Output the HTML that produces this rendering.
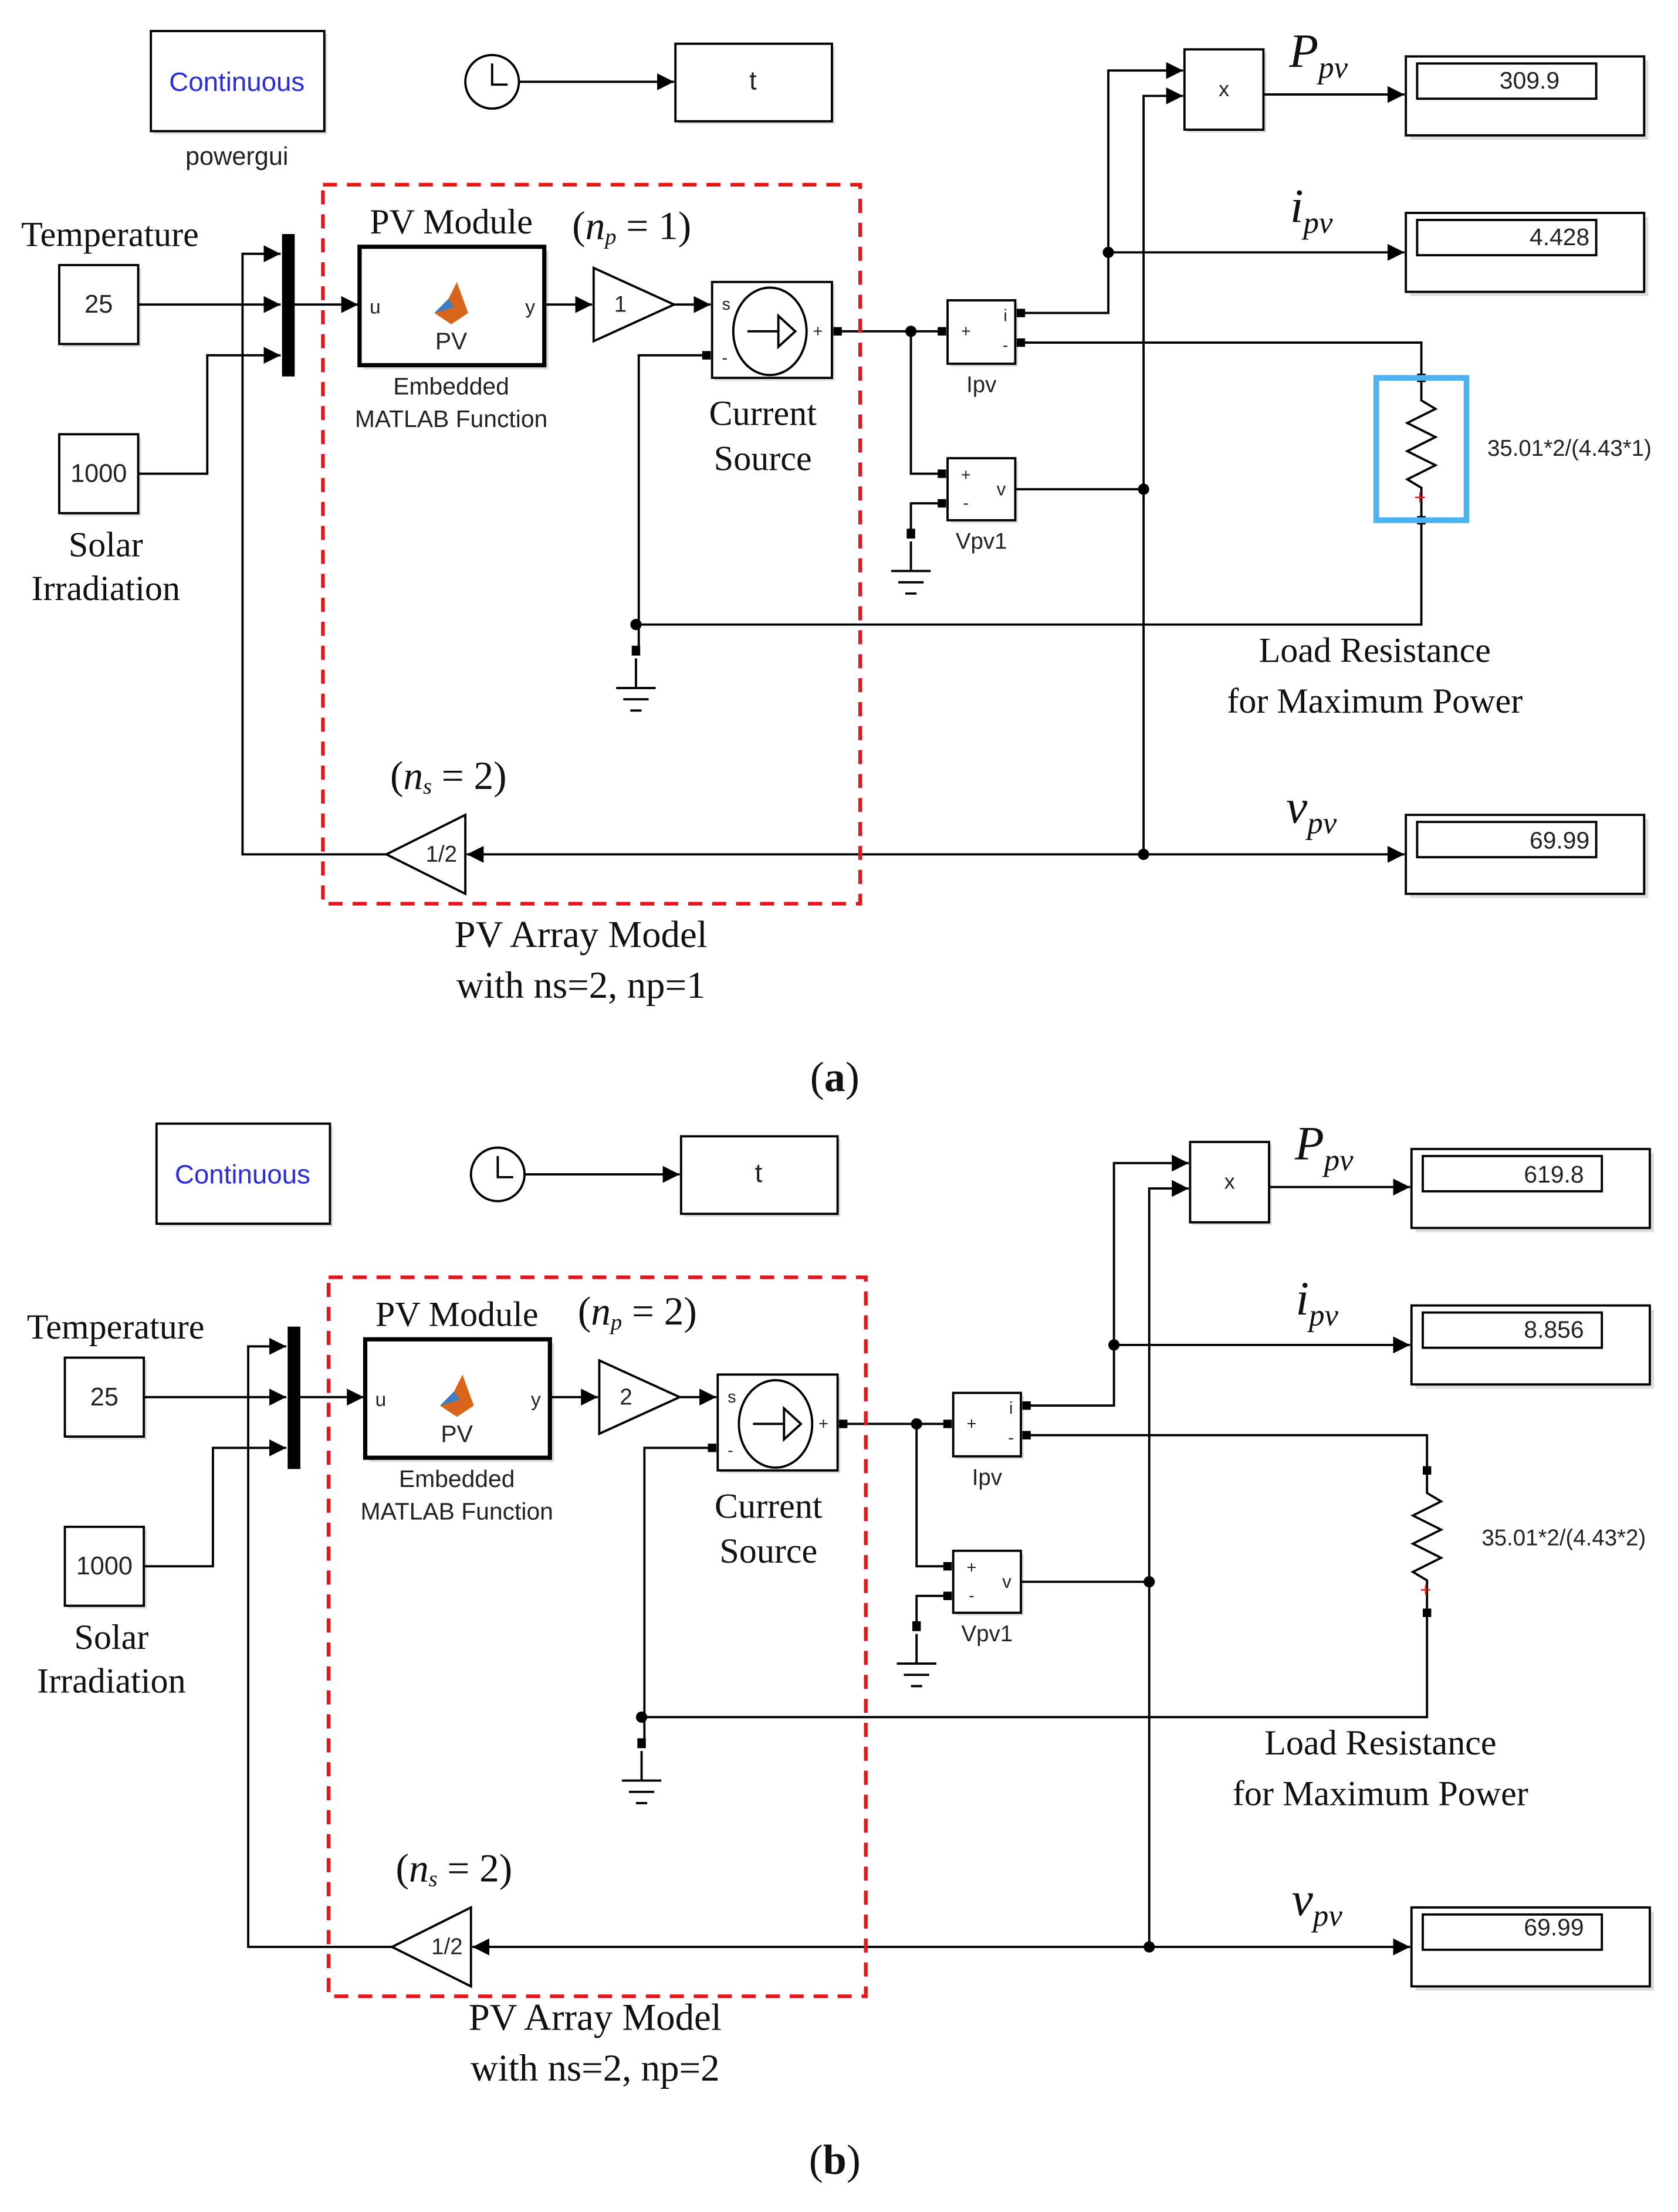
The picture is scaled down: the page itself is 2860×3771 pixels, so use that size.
<!DOCTYPE html>
<html><head><meta charset="utf-8"><style>html,body{margin:0;padding:0;background:#fff}svg{display:block}</style></head>
<body>
<svg xmlns="http://www.w3.org/2000/svg" width="2860" height="3771" viewBox="0 0 1190 1569">
<defs>
<marker id="ar" viewBox="0 0 10 10" refX="10" refY="5" markerWidth="12" markerHeight="12" markerUnits="userSpaceOnUse" orient="auto"><path d="M0,0 L10,5 L0,10 z" fill="#000"/></marker>
<g id="panel">
  <g fill="none" stroke="#000" stroke-width="1.6">
  <!-- powergui -->
  <rect x="109" y="24" width="123" height="71" fill="#ddd" stroke="none"/>
  <rect x="107" y="22" width="123" height="71" fill="#fff"/>
  <!-- clock -->
  <circle cx="349" cy="58" r="19" fill="#fff"/>
  <path d="M349,45 V60 H360"/>
  <line x1="368" y1="58" x2="478" y2="58" marker-end="url(#ar)"/>
  <rect x="481" y="33" width="111" height="55" fill="#ddd" stroke="none"/>
  <rect x="479" y="31" width="111" height="55" fill="#fff"/>
  <!-- sources -->
  <rect x="44" y="190" width="56" height="56" fill="#ddd" stroke="none"/>
  <rect x="42" y="188" width="56" height="56" fill="#fff"/>
  <rect x="44" y="310" width="56" height="56" fill="#ddd" stroke="none"/>
  <rect x="42" y="308" width="56" height="56" fill="#fff"/>
  <line x1="98" y1="216" x2="199" y2="216" marker-end="url(#ar)"/>
  <path d="M98,336 H147 V252 H199" marker-end="url(#ar)"/>
  <path d="M274,606 H172 V180 H199" marker-end="url(#ar)"/>
  <!-- PV block -->
  <line x1="208" y1="216" x2="254" y2="216" marker-end="url(#ar)"/>
  <rect x="258" y="178" width="131" height="84" fill="#ddd" stroke="none"/>
  <rect x="255" y="175" width="131" height="84" fill="#fff" stroke-width="3"/>
  <line x1="386" y1="216" x2="420" y2="216" marker-end="url(#ar)"/>
  <path d="M421,190 L478,216 L421,242 Z" fill="#fff"/>
  <line x1="478" y1="216" x2="504" y2="216" marker-end="url(#ar)"/>
  <!-- current source -->
  <rect x="507" y="202" width="85" height="68" fill="#ddd" stroke="none"/>
  <rect x="505" y="200" width="85" height="68" fill="#fff"/>
  <ellipse cx="546" cy="235" rx="26" ry="31"/>
  <path d="M530,235 H552 M552,224 L564,235 L552,246 Z"/>
  <rect x="591" y="232" width="6" height="6" fill="#000" stroke="none"/>
  <rect x="498" y="249" width="6" height="6" fill="#000" stroke="none"/>
  <path d="M498,252 H453 V461"/>
  <path d="M597,235 H668"/>
  <path d="M646,235 V336 H668"/>
  <path d="M668,357 H646 V378"/>
  <!-- Ipv -->
  <rect x="674" y="215" width="48" height="45" fill="#ddd" stroke="none"/>
  <rect x="672" y="213" width="48" height="45" fill="#fff"/>
  <path d="M724,222 H786 V50 H839" marker-end="url(#ar)"/>
  <line x1="786" y1="179" x2="996" y2="179" marker-end="url(#ar)"/>
  <path d="M724,243 H1008 V268"/>
  <!-- Vpv1 -->
  <rect x="674" y="327" width="48" height="44" fill="#ddd" stroke="none"/>
  <rect x="672" y="325" width="48" height="44" fill="#fff"/>
  <line x1="720" y1="347" x2="811" y2="347"/>
  <path d="M811,606 V68 H839" marker-end="url(#ar)"/>
  <!-- product -->
  <rect x="842" y="37" width="56" height="57" fill="#ddd" stroke="none"/>
  <rect x="840" y="35" width="56" height="57" fill="#fff"/>
  <line x1="896" y1="67" x2="996" y2="67" marker-end="url(#ar)"/>
  <!-- displays -->
  <rect x="1000" y="43" width="169" height="56" fill="#ddd" stroke="none"/>
  <rect x="997" y="40" width="169" height="56" fill="#fff"/>
  <rect x="1005" y="45" width="127" height="25"/>
  <rect x="1000" y="154" width="169" height="56" fill="#ddd" stroke="none"/>
  <rect x="997" y="151" width="169" height="56" fill="#fff"/>
  <rect x="1005" y="156" width="127" height="25"/>
  <rect x="1000" y="581" width="169" height="56" fill="#ddd" stroke="none"/>
  <rect x="997" y="578" width="169" height="56" fill="#fff"/>
  <rect x="1005" y="583" width="127" height="25"/>
  <line x1="811" y1="606" x2="996" y2="606" marker-end="url(#ar)"/>
  <!-- resistor -->
  <path d="M1008,268 V284 L1018,290 L998,300 L1018,310 L998,320 L1018,330 L998,340 L1008,346 V369"/>
  <path d="M1008,369 V443 H451"/>
  <!-- grounds -->
  <path d="M646,384 V405 M632,405 H660 M637,413 H655 M642,421 H650"/>
  <path d="M451,467 V488 M437,488 H465 M442,496 H460 M447,504 H455"/>
  <!-- feedback gain -->
  <line x1="811" y1="606" x2="331" y2="606" marker-end="url(#ar)"/>
  <path d="M330,578 L274,606 L330,634 Z" fill="#fff"/>
  </g>
  <g fill="#000">
  <rect x="200" y="166" width="9" height="101"/>
  <circle cx="646" cy="235" r="4"/><circle cx="786" cy="179" r="4"/>
  <circle cx="811" cy="347" r="4"/><circle cx="811" cy="606" r="4"/>
  <circle cx="451" cy="443" r="4"/>
  <rect x="665" y="232" width="6" height="6"/><rect x="721" y="219" width="6" height="6"/><rect x="721" y="240" width="6" height="6"/>
  <rect x="665" y="333" width="6" height="6"/><rect x="665" y="354" width="6" height="6"/>
  <rect x="643" y="375" width="6" height="7"/><rect x="448" y="458" width="6" height="7"/>
  <rect x="1005" y="265" width="6" height="6"/><rect x="1005" y="366" width="6" height="6"/>
  </g>
  <!-- matlab logo -->
  <path d="M308,222 L318,212 L324,200 L332,222 L320,230 Z" fill="#d9641c"/>
  <path d="M308,222 L318,212 L322,218 Z" fill="#3a7fc4"/>
  <!-- red dashed -->
  <rect x="229" y="131" width="381" height="510" fill="none" stroke="#e8141a" stroke-width="2.6" stroke-dasharray="10,7"/>
  <g font-family="Liberation Sans, sans-serif" text-anchor="middle" dominant-baseline="central" fill="#222">
  <text x="168" y="58" font-size="19" fill="#2b2bdf">Continuous</text>
  <text x="534" y="57" font-size="19">t</text>
  <text x="70" y="216" font-size="18">25</text>
  <text x="70" y="336" font-size="18">1000</text>
  <text x="266" y="218" font-size="14">u</text>
  <text x="376" y="218" font-size="14">y</text>
  <text x="320" y="242" font-size="17">PV</text>
  <text x="320" y="274" font-size="17">Embedded</text>
  <text x="320" y="297" font-size="17">MATLAB Function</text>
  <text x="515" y="216" font-size="12">s</text>
  <text x="580" y="235" font-size="12">+</text>
  <text x="514" y="254" font-size="12">-</text>
  <text x="685" y="235" font-size="12">+</text>
  <text x="713" y="224" font-size="12">i</text>
  <text x="713" y="245" font-size="12">-</text>
  <text x="696" y="273" font-size="16">Ipv</text>
  <text x="685" y="337" font-size="12">+</text>
  <text x="685" y="357" font-size="12">-</text>
  <text x="710" y="347" font-size="13">v</text>
  <text x="696" y="384" font-size="16">Vpv1</text>
  <text x="868" y="63" font-size="15">x</text>
  <text x="1007" y="353" font-size="14" fill="#e8141a">+</text>
  </g>
  <g font-family="Liberation Serif, serif" text-anchor="middle" dominant-baseline="central" fill="#111">
  <text x="78" y="166" font-size="25">Temperature</text>
  <text x="75" y="386" font-size="25">Solar</text>
  <text x="75" y="417" font-size="25">Irradiation</text>
  <text x="320" y="157" font-size="25">PV Module</text>
  <text x="541" y="293" font-size="25">Current</text>
  <text x="541" y="325" font-size="25">Source</text>
  <text x="975" y="461" font-size="25">Load Resistance</text>
  <text x="975" y="497" font-size="25">for Maximum  Power</text>
  <text x="935" y="36" font-size="34" font-style="italic">P<tspan font-size="22" dy="12">pv</tspan></text>
  <text x="930" y="146" font-size="34" font-style="italic">i<tspan font-size="22" dy="12">pv</tspan></text>
  <text x="930" y="572" font-size="34" font-style="italic">v<tspan font-size="22" dy="12">pv</tspan></text>
  <text x="318" y="550" font-size="28">(<tspan font-style="italic">n</tspan><tspan font-size="16" dy="8" font-style="italic">s</tspan><tspan dy="-8"> = 2)</tspan></text>
  </g>
</g>
</defs>

<!-- panel a -->
<use href="#panel"/>
<rect x="976" y="268" width="64" height="101" fill="none" stroke="#4db3f0" stroke-width="4"/>
<g font-family="Liberation Sans, sans-serif" text-anchor="middle" dominant-baseline="central" fill="#222">
  <text x="168" y="111" font-size="18">powergui</text>
  <text x="440" y="216" font-size="16">1</text>
  <text x="313" y="606" font-size="16">1/2</text>
  <text x="1113" y="318" font-size="16">35.01*2/(4.43*1)</text>
  <text x="1106" y="57" font-size="17" text-anchor="end" x2="0">309.9</text>
  <text x="1106" y="168" font-size="17">4.428</text>
  <text x="1106" y="596" font-size="17">69.99</text>
</g>
<g font-family="Liberation Serif, serif" text-anchor="middle" dominant-baseline="central" fill="#111">
  <text x="448" y="160" font-size="28">(<tspan font-style="italic">n</tspan><tspan font-size="16" dy="8" font-style="italic">p</tspan><tspan dy="-8"> = 1)</tspan></text>
  <text x="412" y="663" font-size="27">PV Array  Model</text>
  <text x="412" y="699" font-size="27">with ns=2, np=1</text>
  <text x="592" y="764" font-size="30"><tspan>(</tspan><tspan font-weight="bold">a</tspan><tspan>)</tspan></text>
</g>

<!-- panel b -->
<g transform="translate(4,775)">
<use href="#panel"/>
<g font-family="Liberation Sans, sans-serif" text-anchor="middle" dominant-baseline="central" fill="#222">
  <text x="440" y="216" font-size="16">2</text>
  <text x="313" y="606" font-size="16">1/2</text>
  <text x="1105" y="316" font-size="16">35.01*2/(4.43*2)</text>
  <text x="1098" y="58" font-size="17">619.8</text>
  <text x="1098" y="168" font-size="17">8.856</text>
  <text x="1098" y="592" font-size="17">69.99</text>
</g>
<g font-family="Liberation Serif, serif" text-anchor="middle" dominant-baseline="central" fill="#111">
  <text x="448" y="155" font-size="28">(<tspan font-style="italic">n</tspan><tspan font-size="16" dy="8" font-style="italic">p</tspan><tspan dy="-8"> = 2)</tspan></text>
  <text x="418" y="656" font-size="27">PV Array  Model</text>
  <text x="418" y="692" font-size="27">with ns=2, np=2</text>
</g>
</g>
<text x="592" y="1532" font-family="Liberation Serif, serif" font-size="30" text-anchor="middle" dominant-baseline="central" fill="#111">(<tspan font-weight="bold">b</tspan>)</text>
</svg>
</body></html>
